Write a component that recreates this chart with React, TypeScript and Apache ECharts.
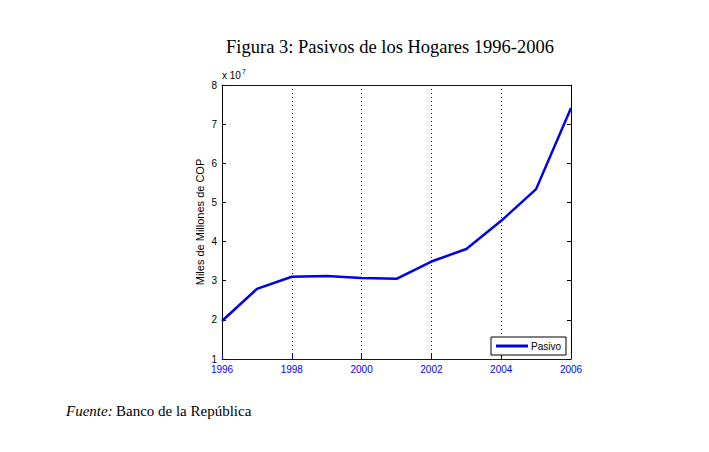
import React, { useEffect, useRef } from "react";
import * as echarts from "echarts";

const years = [1996, 1997, 1998, 1999, 2000, 2001, 2002, 2003, 2004, 2005, 2006];
const pasivo = [1.97, 2.79, 3.1, 3.12, 3.07, 3.05, 3.49, 3.81, 4.53, 5.34, 7.41];
const seriesName = "Pasivo";
const titleText = "Figura 3: Pasivos de los Hogares 1996-2006";
const yAxisName = "Miles de Millones de COP";

export default function App() {
  const ref = useRef<HTMLDivElement>(null);
  useEffect(() => {
    document.body.style.margin = "0";
    const chart = echarts.init(ref.current!, null, { renderer: "svg" });
    const sans = "Liberation Sans, Arial, sans-serif";
    const serif = "Liberation Serif, Times New Roman, serif";
    chart.setOption({
      animation: false,
      backgroundColor: "#ffffff",
      grid: { left: 222, right: 138, top: 85, bottom: 93, containLabel: false },
      legend: {
        data: [seriesName],
        left: 491,
        top: 337,
        orient: "horizontal",
        backgroundColor: "#ffffff",
        borderColor: "#000000",
        borderWidth: 1,
        borderRadius: 0,
        padding: [4, 5, 4, 5],
        itemWidth: 32,
        itemHeight: 3,
        itemGap: 4,
        icon: "rect",
        textStyle: { fontFamily: sans, fontSize: 10, color: "#000000", padding: [0, 0, 0, -2] },
      },
      xAxis: [
        {
          type: "value",
          min: 1996,
          max: 2006,
          interval: 2,
          axisLine: { show: true, lineStyle: { color: "#0000cc", width: 1 } },
          axisTick: { show: true, inside: true, length: 5, lineStyle: { color: "#0000cc" } },
          axisLabel: { color: "#0000ff", fontFamily: sans, fontSize: 10, margin: 5, formatter: (v: number) => String(v) },
          splitLine: { show: true, lineStyle: { color: "#000099", type: [1, 3], width: 1 } },
        },
        {
          type: "value",
          position: "top",
          min: 1996,
          max: 2006,
          interval: 2,
          axisLine: { show: true, onZero: false, lineStyle: { color: "#0000cc", width: 1 } },
          axisTick: { show: false },
          axisLabel: { show: false },
          splitLine: { show: false },
        },
      ],
      yAxis: [
        {
          type: "value",
          min: 1,
          max: 8,
          interval: 1,
          name: yAxisName,
          nameLocation: "middle",
          nameGap: 17,
          nameRotate: 90,
          nameTextStyle: { fontFamily: sans, fontSize: 11, color: "#000000" },
          axisLine: { show: true, lineStyle: { color: "#000000", width: 1 } },
          axisTick: { show: true, inside: true, length: 4, lineStyle: { color: "#000000" } },
          axisLabel: { color: "#000000", fontFamily: sans, fontSize: 10, margin: 5 },
          splitLine: { show: false },
        },
        {
          type: "value",
          position: "right",
          min: 1,
          max: 8,
          interval: 1,
          axisLine: { show: true, onZero: false, lineStyle: { color: "#000000", width: 1 } },
          axisTick: { show: true, inside: true, length: 4, lineStyle: { color: "#000000" } },
          axisLabel: { show: false },
          splitLine: { show: false },
        },
      ],
      series: [
        {
          name: seriesName,
          type: "line",
          data: years.map((y, i) => [y, pasivo[i]]),
          showSymbol: false,
          symbol: "none",
          lineStyle: { color: "#0000ee", width: 2.5 },
          itemStyle: { color: "#0000ee" },
        },
      ],
      graphic: [
        {
          type: "text",
          x: 390,
          y: 37,
          style: {
            text: titleText,
            fontFamily: serif,
            fontSize: 18.5,
            fill: "#000000",
            textAlign: "center",
          },
        },
        {
          type: "text",
          x: 222,
          y: 68,
          style: {
            text: "{a|x 10}{b|7}",
            rich: {
              a: { fontFamily: sans, fontSize: 10, fill: "#000000", verticalAlign: "bottom", lineHeight: 12 },
              b: { fontFamily: sans, fontSize: 7, fill: "#000000", verticalAlign: "top", lineHeight: 12, padding: [0, 0, 6, 1] },
            },
          },
        },
        {
          type: "text",
          x: 66,
          y: 403,
          style: {
            text: "{i|Fuente:} {n|Banco de la República}",
            rich: {
              i: { fontFamily: serif, fontSize: 15, fontStyle: "italic", fill: "#000000" },
              n: { fontFamily: serif, fontSize: 15, fill: "#000000" },
            },
          },
        },
      ],
    });
    return () => chart.dispose();
  }, []);
  return <div ref={ref} style={{ width: 709, height: 452 }} />;
}
